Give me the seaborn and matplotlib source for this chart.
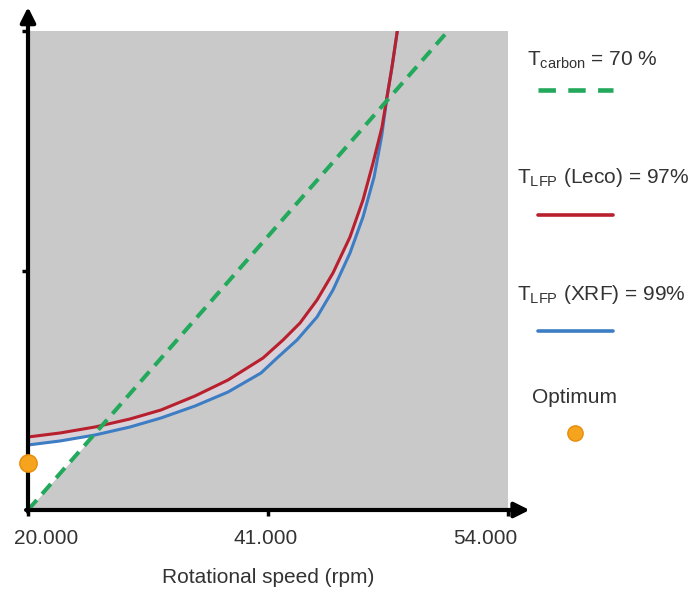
"""
Operating window sketch: rotational speed vs. the three separation targets.
Schematic axes, y has no units, x is placed on the 20.000-54.000 rpm span
as a fraction (the original is not linear in rpm).
"""
# %%
import numpy as np
import matplotlib
matplotlib.use("Agg")
import matplotlib.pyplot as plt
import matplotlib.transforms as mtransforms
from matplotlib.lines import Line2D
import seaborn as sns

# %% Data (x: % of axis width, y: % of axis height)
red_x = [0, 6.67, 13.96, 21.25, 27.71, 34.79, 41.67, 48.96, 53.13, 56.67,
         60.21, 63.54, 67.08, 69.79, 71.88, 73.75, 74.79, 75.83, 76.94]
red_y = [15.24, 16.08, 17.33, 19.00, 20.88, 23.80, 27.14, 31.73, 35.49, 39.04,
         43.84, 49.48, 56.99, 64.72, 72.44, 79.96, 86.22, 92.48, 100.0]

# XRF curve runs under the Leco one once they meet near the top
blue_x = [0, 6.67, 13.96, 21.25, 27.71, 34.79, 41.67, 48.54, 51.88, 56.04,
          60.21, 63.54, 67.08, 69.79, 72.10, 73.70, 74.79, 75.83, 76.94]
blue_y = [13.57, 14.41, 15.66, 17.33, 19.21, 21.71, 24.63, 28.60, 31.73, 35.49,
          40.29, 45.93, 53.65, 61.17, 69.52, 78.20, 86.22, 92.48, 100.0]

carbon_x = [0, 87.5]
carbon_y = [0, 100]

optimum_x = [0]
optimum_y = [9.8]

tick_pos = [0, 50, 100]
tick_labels = ["20.000", "41.000", "54.000"]
tick_shift = [13, -1.5, -16]  # points, labels sit off their ticks in the original

GRAY = "#c9c9c9"
RED = "#b8202e"
BLUE = "#3c7dc4"
GREEN = "#22a95b"
ORANGE = "#f6a31e"
TXT = "#333333"

# %% Figure
sns.set_theme(style="white")
plt.rcParams["font.family"] = ["Liberation Sans", "DejaVu Sans"]
plt.rcParams["mathtext.fontset"] = "custom"
plt.rcParams["mathtext.rm"] = "Liberation Sans"
plt.rcParams["mathtext.it"] = "Liberation Sans:italic"

W, H = 700, 592
fig = plt.figure(figsize=(W / 100, H / 100), dpi=100)
ax = fig.add_axes([28 / W, 82 / H, 480 / W, 479 / H])
ax.set_facecolor(GRAY)

# white window between the carbon line and the XRF curve
xs = np.linspace(0, 25, 400)
b_i = np.interp(xs, blue_x, blue_y)
g_i = np.interp(xs, carbon_x, carbon_y)
ax.fill_between(xs, g_i, b_i, where=b_i > g_i, interpolate=True,
                color="white", lw=0, zorder=1)

# the thin pale band between the two LFP curves
xb = np.linspace(0, 77, 800)
ax.fill_between(xb, np.interp(xb, blue_x, blue_y), np.interp(xb, red_x, red_y),
                color="#d8d1d8", lw=0, zorder=2)

sns.lineplot(x=blue_x, y=blue_y, ax=ax, color=BLUE, lw=2.2, zorder=3)
sns.lineplot(x=red_x, y=red_y, ax=ax, color=RED, lw=2.2, zorder=4)
sns.lineplot(x=carbon_x, y=carbon_y, ax=ax, color=GREEN, lw=2.9,
             linestyle=(0, (3.3, 2.0)), zorder=5)

ax.plot(optimum_x, optimum_y, "o", ms=12.5, color=ORANGE,
        mec="#e68c0a", mew=1, clip_on=False, zorder=10)

ax.set_xlim(0, 100)
ax.set_ylim(0, 100)

# axes as arrows
for s in ax.spines.values():
    s.set_visible(False)
arrow = dict(arrowstyle="-|>,head_length=0.9,head_width=0.45", lw=3,
             color="black", shrinkA=0, shrinkB=0, mutation_scale=10)
ax.annotate("", xy=(0, 1.05), xytext=(0, -0.004), xycoords="axes fraction",
            arrowprops=arrow, annotation_clip=False, zorder=8)
ax.annotate("", xy=(1.045, 0), xytext=(-0.004, 0), xycoords="axes fraction",
            arrowprops=arrow, annotation_clip=False, zorder=8)

ax.set_xticks(tick_pos, tick_labels)
ax.set_yticks([50, 100], ["", ""])
ax.tick_params(bottom=True, left=True, direction="out", length=4, width=2.5,
               color="black", labelsize=15, labelcolor=TXT, pad=10)
for lab, dx in zip(ax.get_xticklabels(), tick_shift):
    lab.set_transform(lab.get_transform() +
                      mtransforms.ScaledTranslation(dx / 72, 0, fig.dpi_scale_trans))

ax.set_xlabel("Rotational speed (rpm)", fontsize=15, color=TXT, labelpad=14)
ax.set_ylabel("")

# %% Side legend, drawn by hand like the original
def fx(px):
    return px / W


def fy(py):
    return 1 - py / H


fig.text(fx(527), fy(66), r"T$_{\mathrm{carbon}}$ = 70 %", fontsize=15,
         color=TXT, va="baseline")
fig.add_artist(Line2D([fx(538), fx(613)], [fy(90)] * 2, color=GREEN, lw=3.3,
                      linestyle=(0, (3.8, 2.7))))

fig.text(fx(517), fy(183), r"T$_{\mathrm{LFP}}$ (Leco) = 97%", fontsize=15,
         color=TXT, va="baseline")
fig.add_artist(Line2D([fx(538), fx(613)], [fy(215)] * 2, color=RED, lw=2.6))

fig.text(fx(517), fy(300), r"T$_{\mathrm{LFP}}$ (XRF) = 99%", fontsize=15,
         color=TXT, va="baseline")
fig.add_artist(Line2D([fx(538), fx(613)], [fy(331)] * 2, color=BLUE, lw=2.6))

fig.text(fx(532), fy(403), "Optimum", fontsize=15, color=TXT, va="baseline")
fig.add_artist(Line2D([fx(575)], [fy(433)], marker="o", ms=11, color=ORANGE,
                      mec="#e68c0a", mew=1, lw=0))

fig.savefig("out.png", dpi=100)
